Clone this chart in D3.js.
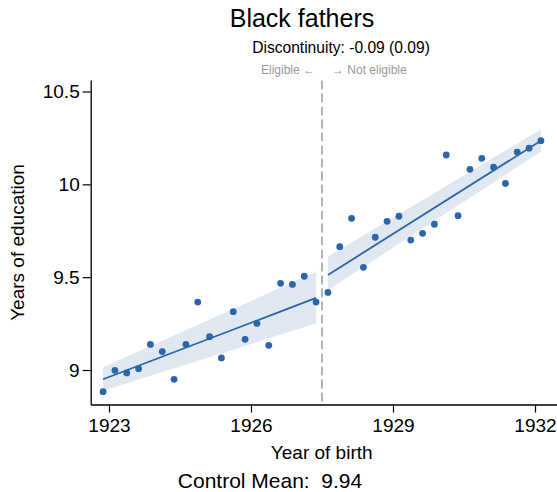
<!DOCTYPE html>
<html>
<head>
<meta charset="utf-8">
<script src="https://cdn.jsdelivr.net/npm/d3@7"></script>
<style>
  html, body { margin: 0; padding: 0; background: #fff; }
  svg { display: block; }
  text { font-family: "Liberation Sans", Arial, sans-serif; fill: #000; }
</style>
</head>
<body>
<svg id="chart" width="557" height="492"></svg>
<script>
// Binned means by quarter of birth, either side of the eligibility cutoff
const leftYears = [1922.875, 1923.125, 1923.375, 1923.625, 1923.875, 1924.125, 1924.375,
  1924.625, 1924.875, 1925.125, 1925.375, 1925.625, 1925.875, 1926.125, 1926.375,
  1926.625, 1926.875, 1927.125, 1927.375];
const leftValues = [8.883, 8.998, 8.984, 9.007, 9.138, 9.099, 8.950, 9.138, 9.366, 9.179,
  9.065, 9.314, 9.165, 9.251, 9.133, 9.467, 9.461, 9.505, 9.366];

const rightYears = [1927.625, 1927.875, 1928.125, 1928.375, 1928.625, 1928.875, 1929.125,
  1929.375, 1929.625, 1929.875, 1930.125, 1930.375, 1930.625, 1930.875, 1931.125,
  1931.375, 1931.625, 1931.875, 1932.125];
const rightValues = [9.418, 9.664, 9.817, 9.553, 9.715, 9.801, 9.828, 9.700, 9.736, 9.785,
  10.158, 9.831, 10.081, 10.140, 10.092, 10.005, 10.174, 10.195, 10.235];

// Linear fits with confidence bands, evaluated at the ends of each side
const leftFitYears = [1922.875, 1927.375];
const leftFit = [8.950, 9.388];
const leftLo = [8.8885, 9.251];
const leftHi = [9.0145, 9.529];

const rightFitYears = [1927.625, 1932.125];
const rightFit = [9.512, 10.235];
const rightLo = [9.431, 10.176];
const rightHi = [9.610, 10.296];

const cutoff = 1927.5;
const xTicks = [1923, 1926, 1929, 1932];
const yTicks = [9, 9.5, 10, 10.5];
const yTickLabels = ["9", "9.5", "10", "10.5"];

const title = "Black fathers";
const subtitle = "Discontinuity: -0.09 (0.09)";
const leftNote = "Eligible \u2190";
const rightNote = "\u2192 Not eligible";
const xTitle = "Year of birth";
const yTitle = "Years of education";
const footer = "Control Mean:  9.94";

const blue = "#2d65ab";

const svg = d3.select("#chart");

const x = d3.scaleLinear().domain([1923, 1932]).range([109, 535]);
const y = d3.scaleLinear().domain([9, 10.5]).range([370, 91.5]);

// Axis scales share the mapping but span the full drawn axis lines
const xAxisScale = x.copy().domain([x.invert(90.7), x.invert(557)]).range([90.7, 557]);
const yAxisScale = y.copy().domain([y.invert(404.5), y.invert(80)]).range([404.5, 80]);

// Confidence bands
const band = d3.area()
  .x(d => x(d.yr))
  .y0(d => y(d.lo))
  .y1(d => y(d.hi));

function bandData(yrs, lo, hi) {
  return yrs.map((yr, i) => ({ yr, lo: lo[i], hi: hi[i] }));
}

svg.append("path")
  .datum(bandData(leftFitYears, leftLo, leftHi))
  .attr("d", band)
  .attr("fill", blue).attr("fill-opacity", 0.15);

svg.append("path")
  .datum(bandData(rightFitYears, rightLo, rightHi))
  .attr("d", band)
  .attr("fill", blue).attr("fill-opacity", 0.15);

// Fit lines
const line = d3.line().x(d => x(d.yr)).y(d => y(d.v));
function lineData(yrs, vals) { return yrs.map((yr, i) => ({ yr, v: vals[i] })); }

svg.append("path")
  .datum(lineData(leftFitYears, leftFit))
  .attr("d", line)
  .attr("fill", "none").attr("stroke", blue).attr("stroke-width", 1.8);

svg.append("path")
  .datum(lineData(rightFitYears, rightFit))
  .attr("d", line)
  .attr("fill", "none").attr("stroke", blue).attr("stroke-width", 1.8);

// Cutoff marker
svg.append("line")
  .attr("x1", x(cutoff)).attr("x2", x(cutoff))
  .attr("y1", 80.5).attr("y2", 404)
  .attr("stroke", "#9a9a9a").attr("stroke-width", 1.5)
  .attr("stroke-dasharray", "9,4");

// Binned points
const pts = lineData(leftYears, leftValues).concat(lineData(rightYears, rightValues));
svg.append("g").selectAll("circle")
  .data(pts)
  .join("circle")
  .attr("cx", d => x(d.yr))
  .attr("cy", d => y(d.v))
  .attr("r", 3.4)
  .attr("fill", blue);

// Axes
const xAxis = d3.axisBottom(xAxisScale).tickValues(xTicks).tickFormat(d3.format("d"))
  .tickSizeInner(8).tickSizeOuter(0).tickPadding(6);
const gx = svg.append("g").attr("transform", "translate(0,404.5)").call(xAxis);
gx.select(".domain").attr("stroke", "#000").attr("stroke-width", 1.3);
gx.selectAll(".tick line").attr("stroke", "#000").attr("stroke-width", 1.2);
gx.selectAll(".tick text")
  .attr("font-size", 19).attr("font-family", "Liberation Sans, Arial, sans-serif")
  .attr("fill", "#000").attr("dy", "0.73em");

const yAxis = d3.axisLeft(yAxisScale).tickValues(yTicks).tickFormat((d, i) => yTickLabels[i])
  .tickSizeInner(8).tickSizeOuter(0).tickPadding(3);
const gy = svg.append("g").attr("transform", "translate(90.7,0)").call(yAxis);
gy.select(".domain").attr("stroke", "#000").attr("stroke-width", 1.3);
gy.selectAll(".tick line").attr("stroke", "#000").attr("stroke-width", 1.2);
gy.selectAll(".tick text")
  .attr("font-size", 19).attr("font-family", "Liberation Sans, Arial, sans-serif")
  .attr("fill", "#000");

// Titles and notes
svg.append("text").attr("x", 302).attr("y", 27)
  .attr("text-anchor", "middle").attr("font-size", 25).text(title);

svg.append("text").attr("x", 341).attr("y", 53)
  .attr("text-anchor", "middle").attr("font-size", 15.6).text(subtitle);

svg.append("text").attr("x", x(cutoff) - 7).attr("y", 74)
  .attr("text-anchor", "end").attr("font-size", 12).style("fill", "#999").text(leftNote);

svg.append("text").attr("x", x(cutoff) + 10).attr("y", 74)
  .attr("text-anchor", "start").attr("font-size", 12).style("fill", "#999").text(rightNote);

svg.append("text").attr("x", 321.7).attr("y", 459)
  .attr("text-anchor", "middle").attr("font-size", 19).text(xTitle);

svg.append("text").attr("transform", "translate(24,242.5) rotate(-90)")
  .attr("text-anchor", "middle").attr("font-size", 19).text(yTitle);

svg.append("text").attr("x", 270).attr("y", 487.5)
  .attr("text-anchor", "middle").attr("font-size", 21)
  .style("white-space", "pre").text(footer);
</script>
</body>
</html>
